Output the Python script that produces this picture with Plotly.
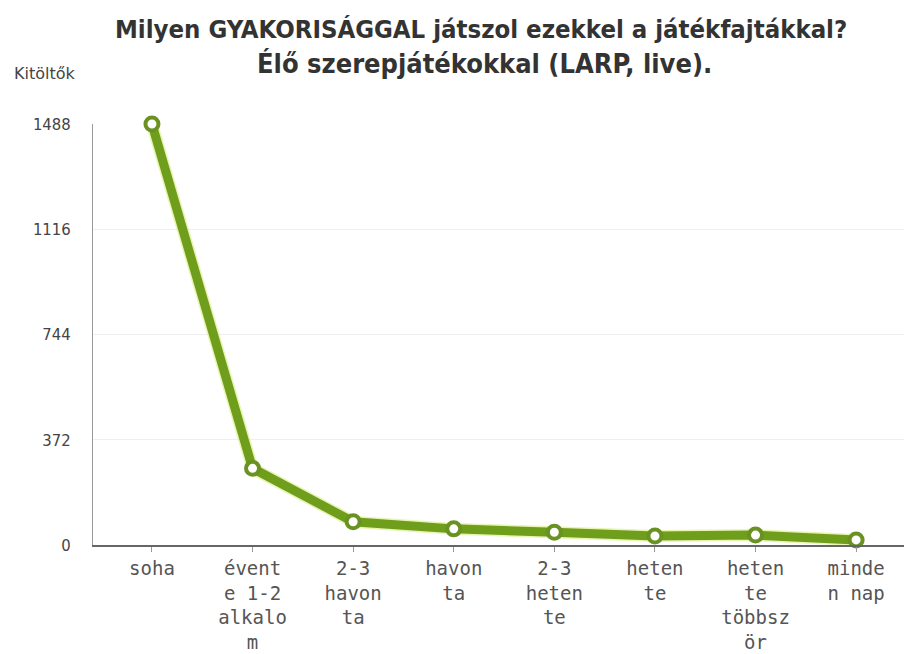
import plotly.graph_objects as go

categories = ["soha", "évent<br>e 1-2<br>alkalo<br>m", "2-3<br>havon<br>ta", "havon<br>ta",
              "2-3<br>heten<br>te", "heten<br>te", "heten<br>te<br>többsz<br>ör", "minde<br>n nap"]
values = [1488, 271, 82, 57, 45, 32, 35, 18]
y_ticks = [0, 372, 744, 1116, 1488]
title_lines = ["Milyen GYAKORISÁGGAL játszol ezekkel a játékfajtákkal?",
               "Élő szerepjátékokkal (LARP, live)."]

GREEN = "#6f9d1c"
xs = list(range(len(categories)))

fig = go.Figure()
fig.add_trace(go.Scatter(
    x=xs, y=values, mode="lines",
    line=dict(color="rgba(205,230,80,0.45)", width=12),
    cliponaxis=False, showlegend=False, hoverinfo="skip",
))
fig.add_trace(go.Scatter(
    x=xs, y=values, mode="lines+markers",
    line=dict(color=GREEN, width=9),
    marker=dict(size=13, color="white", line=dict(color="#6a9222", width=4)),
    cliponaxis=False, showlegend=False,
))

PH = 421
def py(px):
    return (654 - 109 - px) / PH

fig.update_layout(
    width=904, height=654,
    margin=dict(l=93, r=0, t=124, b=109),
    plot_bgcolor="white", paper_bgcolor="white",
    xaxis=dict(
        range=[-0.586, 7.476], automargin=False,
        tickmode="array", tickvals=xs, ticktext=categories,
        showgrid=False, zeroline=False,
        showline=True, linecolor="#666666", linewidth=2,
        ticks="outside", ticklen=5, tickcolor="#999999",
        tickfont=dict(family="DejaVu Sans Mono", size=19, color="#555555"),
    ),
    yaxis=dict(
        range=[0, 1488], automargin=False,
        tickmode="array", tickvals=y_ticks, ticktext=[str(v) for v in y_ticks],
        showgrid=True, gridcolor="#efefef", gridwidth=1,
        zeroline=False,
        showline=True, linecolor="#999999", linewidth=1,
        ticks="", ticklabelstandoff=18,
        tickfont=dict(family="DejaVu Sans Condensed", size=16.5, color="#444444"),
    ),
    annotations=[
        dict(text="Kitöltők", xref="paper", yref="paper",
             x=(12 - 93) / 811, xanchor="left", y=py(73), yanchor="middle",
             showarrow=False, font=dict(family="DejaVu Sans", size=16, color="#444444")),
        dict(text="<b>" + title_lines[0] + "</b>", xref="paper", yref="paper",
             x=(481 - 93) / 811, xanchor="center", y=py(29), yanchor="middle",
             showarrow=False, font=dict(family="DejaVu Sans Condensed", size=25.5, color="#333333")),
        dict(text="<b>" + title_lines[1] + "</b>", xref="paper", yref="paper",
             x=(484 - 93) / 811, xanchor="center", y=py(64), yanchor="middle",
             showarrow=False, font=dict(family="DejaVu Sans Condensed", size=27, color="#333333")),
    ],
)

fig.write_html("out.html", config={"displayModeBar": False},
               post_script="document.body.style.margin='0px';")
